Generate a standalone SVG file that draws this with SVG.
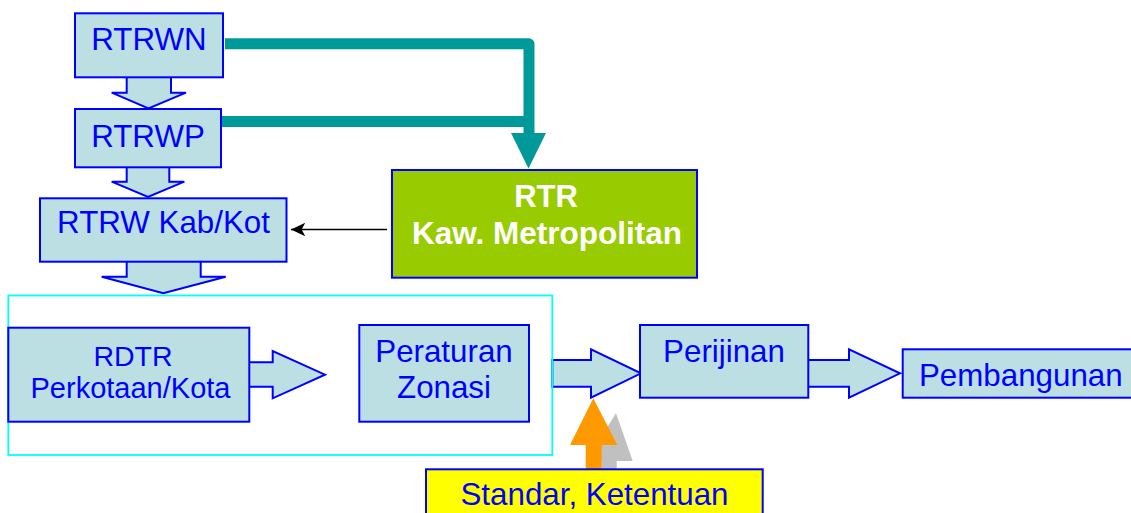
<svg xmlns="http://www.w3.org/2000/svg" width="1131" height="513" viewBox="0 0 1131 513">
<style>
.box{fill:#BBDFE3;stroke:#0000FF;stroke-width:2}
.barrow{fill:#BBDFE3;stroke:#0000FF;stroke-width:2;stroke-linejoin:miter}
.t{font-family:"Liberation Sans",Arial,sans-serif;font-size:31.3px;fill:#0000FF;text-anchor:middle}
.teal{fill:none;stroke:#009999;stroke-width:11;stroke-linejoin:round}
</style>
<defs>
<marker id="blk" markerWidth="16" markerHeight="16" refX="0" refY="0" viewBox="-17 -8 18 16" orient="auto" markerUnits="userSpaceOnUse">
<path d="M0,0 L-16,-7.5 L-12,0 L-16,7.5 Z" fill="#000"/>
</marker>
</defs>
<rect width="1131" height="513" fill="#FFFFFF"/>

<g id="connectors">
<path class="teal" d="M225,43.8 H529 V135"/>
<path class="teal" d="M221,121.5 H529" style="stroke-linejoin:miter"/>
<polygon points="511,133 546,133 528.5,168.5" fill="#009999"/>
<line x1="387" y1="229.5" x2="291" y2="229.5" stroke="#000" stroke-width="1.6" marker-end="url(#blk)"/>
<polygon class="barrow" points="126.7,75 171,75 171,92.7 186,92.7 148.5,108.5 111.7,92.7 126.7,92.7"/>
<polygon class="barrow" points="126.7,165 169.3,165 169.3,181.7 184.3,181.7 148,197 111.7,181.7 126.7,181.7"/>
<polygon class="barrow" points="126.7,259 200.7,259 200.7,276.7 225.7,276.7 163.3,293.3 101.7,276.7 126.7,276.7"/>
<polygon class="barrow" points="247,362.3 272.7,362.3 272.7,351 325,374.7 272.7,398.3 272.7,386.7 247,386.7"/>
<polygon class="barrow" points="552.3,360 591,360 591,349.3 641,373.3 591,397.7 591,386.7 552.3,386.7"/>
<polygon class="barrow" points="806,360 849,360 849,349.3 900,373.3 849,397.7 849,386.7 806,386.7"/>
<polygon points="616,413.3 632.7,461 616.7,461 616.7,472 601.7,472 601.7,461 586,461" fill="#C0C0C0"/>
<polygon points="593.3,398.3 617.3,445 601.7,445 601.7,470 585.7,470 585.7,445 570,445" fill="#FF9900"/>
</g>

<g id="group-frame">
<rect x="8.3" y="295.5" width="544" height="159.5" fill="none" stroke="#00FFFF" stroke-width="1.8"/>
</g>

<g id="rtrwn">
<rect class="box" x="75" y="13.3" width="148" height="64"/>
<text class="t" x="149" y="50">RTRWN</text>
</g>
<g id="rtrwp">
<rect class="box" x="75" y="109" width="146" height="58.3"/>
<text class="t" x="148" y="146.7">RTRWP</text>
</g>
<g id="rtrw-kabkot">
<rect class="box" x="40" y="198.3" width="246.5" height="63.4"/>
<text class="t" x="163.5" y="233.3">RTRW Kab/Kot</text>
</g>
<g id="rtr-metro">
<rect x="392" y="170" width="305" height="107.7" fill="#99CC00" stroke="#0000FF" stroke-width="2"/>
<text class="t" x="546" y="206.5" style="fill:#FFFFFF;font-weight:bold;font-size:31px">RTR</text>
<text class="t" x="547" y="244" style="fill:#FFFFFF;font-weight:bold;font-size:31.5px">Kaw. Metropolitan</text>
</g>
<g id="rdtr">
<rect class="box" x="8.3" y="327.7" width="241" height="94"/>
<text class="t" x="133" y="366" style="font-size:28.5px">RDTR</text>
<text class="t" x="130.5" y="398.3" style="font-size:29px">Perkotaan/Kota</text>
</g>
<g id="peraturan-zonasi">
<rect class="box" x="359.3" y="325" width="169.7" height="96.7"/>
<text class="t" x="444" y="361.7">Peraturan</text>
<text class="t" x="444" y="398.3">Zonasi</text>
</g>
<g id="perijinan">
<rect class="box" x="640" y="325" width="168.3" height="72.7"/>
<text class="t" x="724" y="361.7">Perijinan</text>
</g>
<g id="pembangunan">
<rect class="box" x="902.7" y="349.3" width="240" height="48.4"/>
<text class="t" x="919" y="385.5" style="text-anchor:start">Pembangunan</text>
</g>
<g id="standar">
<rect x="426" y="469.3" width="336.7" height="60" fill="#FFFF00" stroke="#0000FF" stroke-width="2"/>
<text class="t" x="594.5" y="505">Standar, Ketentuan</text>
</g>
</svg>
